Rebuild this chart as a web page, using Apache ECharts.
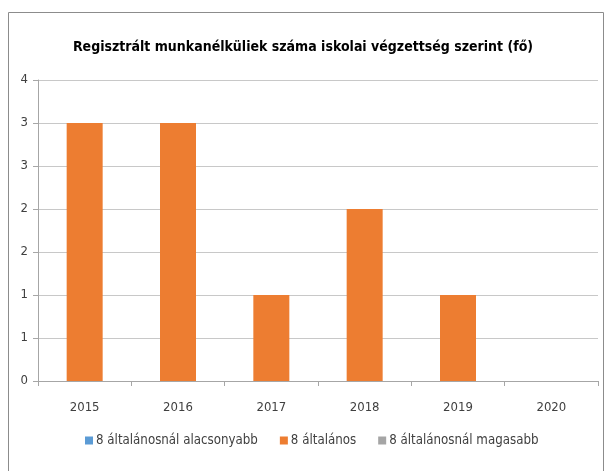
<!DOCTYPE html>
<html><head><meta charset="utf-8">
<script src="https://cdn.jsdelivr.net/npm/echarts@6/dist/echarts.min.js"></script>
<style>html,body{margin:0;padding:0;background:#fff}#c{width:606px;height:471px}</style>
</head><body><div id="c"></div>
<script>
const titleText = 'Regisztrált munkanélküliek száma iskolai végzettség szerint (fő)';
const categories = ['2015','2016','2017','2018','2019','2020'];
const seriesNames = ['8 általánosnál alacsonyabb','8 általános','8 általánosnál magasabb'];
const lowerValues = [0,0,0,0,0,0];
const primaryValues = [3,3,1,2,1,0];
const higherValues = [0,0,0,0,0,0];
const colors = ['#5B9BD5','#ED7D31','#A5A5A5'];
const font = '"DejaVu Sans Condensed",sans-serif';

const chart = echarts.init(document.getElementById('c'));
chart.setOption({
  animation:false,
  color: colors,
  title:{text:titleText,left:'center',top:35,textStyle:{fontFamily:font,fontSize:14,fontWeight:'bold',color:'#000'}},
  graphic:[{type:'rect',shape:{x:8.5,y:12.5,width:595,height:480},style:{fill:'none',stroke:'#8c8c8c',lineWidth:1},silent:true}],
  legend:{bottom:19,left:80,itemWidth:8,itemHeight:8,itemGap:22,icon:'rect',
    textStyle:{fontFamily:font,fontSize:13.2,color:'#404040',padding:[0,0,0,-2]},data:seriesNames},
  grid:{left:38,right:8,top:80,bottom:90,containLabel:false},
  xAxis:{type:'category',data:categories,
    axisLine:{lineStyle:{color:'#a6a6a6'}},
    axisTick:{show:true,alignWithLabel:false,length:5,lineStyle:{color:'#a6a6a6'}},
    axisLabel:{fontFamily:font,fontSize:13,color:'#404040',margin:20}},
  yAxis:{type:'value',min:0,max:3.5,interval:0.5,
    axisLine:{show:true,lineStyle:{color:'#a6a6a6'}},
    axisTick:{show:true,length:5,lineStyle:{color:'#a6a6a6'}},
    splitLine:{lineStyle:{color:'#c8c8c8'}},
    axisLabel:{fontFamily:font,fontSize:13,color:'#404040',margin:10,formatter:v=>String(Math.round(v))}},
  series:[
    {name:seriesNames[0],type:'bar',data:lowerValues,barWidth:36,barGap:'-100%',itemStyle:{color:colors[0]}},
    {name:seriesNames[1],type:'bar',data:primaryValues,barWidth:36,barGap:'-100%',itemStyle:{color:colors[1]}},
    {name:seriesNames[2],type:'bar',data:higherValues,barWidth:36,barGap:'-100%',itemStyle:{color:colors[2]}}
  ]
});
</script></body></html>
